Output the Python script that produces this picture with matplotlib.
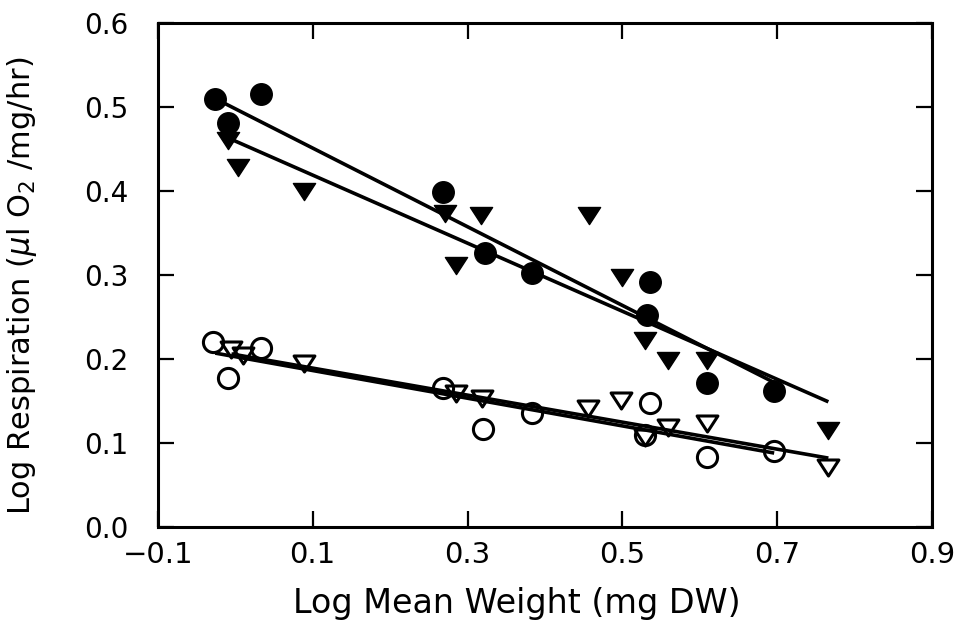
import numpy as np
import matplotlib
matplotlib.use("Agg")
import matplotlib.pyplot as plt
from matplotlib.path import Path

# values (log mean weight, log respiration)
fc_x = [-0.026, -0.010, 0.033, 0.268, 0.322, 0.383, 0.536, 0.532, 0.609, 0.696]
fc_y = [0.510, 0.481, 0.515, 0.399, 0.326, 0.302, 0.292, 0.252, 0.171, 0.162]

ft_x = [-0.010, 0.003, 0.089, 0.271, 0.317, 0.285, 0.457, 0.499, 0.529, 0.559, 0.609, 0.766]
ft_y = [0.461, 0.429, 0.400, 0.374, 0.371, 0.312, 0.371, 0.298, 0.223, 0.199, 0.199, 0.115]

oc_x = [-0.029, -0.010, 0.033, 0.268, 0.320, 0.383, 0.536, 0.529, 0.609, 0.696]
oc_y = [0.220, 0.177, 0.213, 0.165, 0.117, 0.136, 0.148, 0.110, 0.083, 0.090]

ot_x = [-0.005, 0.010, 0.089, 0.285, 0.318, 0.456, 0.498, 0.529, 0.559, 0.609, 0.766]
ot_y = [0.212, 0.205, 0.195, 0.160, 0.154, 0.142, 0.151, 0.107, 0.119, 0.124, 0.071]

# regression lines as printed: start and end values (x0, y0, x1, y1)
fc_fit = [-0.026, 0.510, 0.696, 0.172]
ft_fit = [-0.004, 0.461, 0.766, 0.149]
oc_fit = [-0.026, 0.207, 0.696, 0.088]
ot_fit = [-0.005, 0.206, 0.766, 0.082]

x_ticks = [-0.1, 0.1, 0.3, 0.5, 0.7, 0.9]
x_labels = ["\u22120.1", "0.1", "0.3", "0.5", "0.7", "0.9"]
y_ticks = [0.0, 0.1, 0.2, 0.3, 0.4, 0.5, 0.6]

# wide, short downward triangle like the original plotting symbol
tri = Path([(-1.0, 0.72), (1.0, 0.72), (0.0, -0.82), (-1.0, 0.72)],
           [Path.MOVETO, Path.LINETO, Path.LINETO, Path.CLOSEPOLY])

fig = plt.figure(figsize=(9.57, 6.33), dpi=100)
ax = fig.add_axes([0.165, 0.1675, 0.809, 0.7962])

for f in [fc_fit, ft_fit, oc_fit, ot_fit]:
    ax.plot([f[0], f[2]], [f[1], f[3]], color="black", lw=2.6,
            solid_capstyle="butt", zorder=2)

ax.plot(fc_x, fc_y, "o", ms=15.5, mfc="black", mec="black", ls="none", zorder=3)
ax.plot(ft_x, ft_y, marker=tri, ms=16, mfc="black", mec="black", ls="none", zorder=3)
ax.plot(oc_x, oc_y, "o", ms=14.5, mfc="none", mec="black", mew=2.2, ls="none", zorder=3)
ax.plot(ot_x, ot_y, marker=tri, ms=15, mfc="none", mec="black", mew=2.2, ls="none", zorder=3)

ax.set_xlim(-0.1, 0.9)
ax.set_ylim(0.0, 0.6)
ax.set_xticks(x_ticks)
ax.set_yticks(y_ticks)
ax.set_xticklabels(x_labels, fontsize=21)
ax.set_yticklabels(["%.1f" % v for v in y_ticks], fontsize=20)

ax.tick_params(direction="in", length=11.5, width=1.6, top=True, right=True)
ax.tick_params(axis="x", pad=10)
ax.tick_params(axis="y", pad=21)
for s in ax.spines.values():
    s.set_linewidth(2.2)

ax.set_xlabel("Log Mean Weight (mg DW)", fontsize=24)
ax.xaxis.set_label_coords(0.464, -0.12)
ax.set_ylabel(r"Log Respiration ($\mu$l O$_2$ /mg/hr)", fontsize=22)
ax.yaxis.set_label_coords(-0.153, 0.478)

fig.savefig("out.png", dpi=100)
